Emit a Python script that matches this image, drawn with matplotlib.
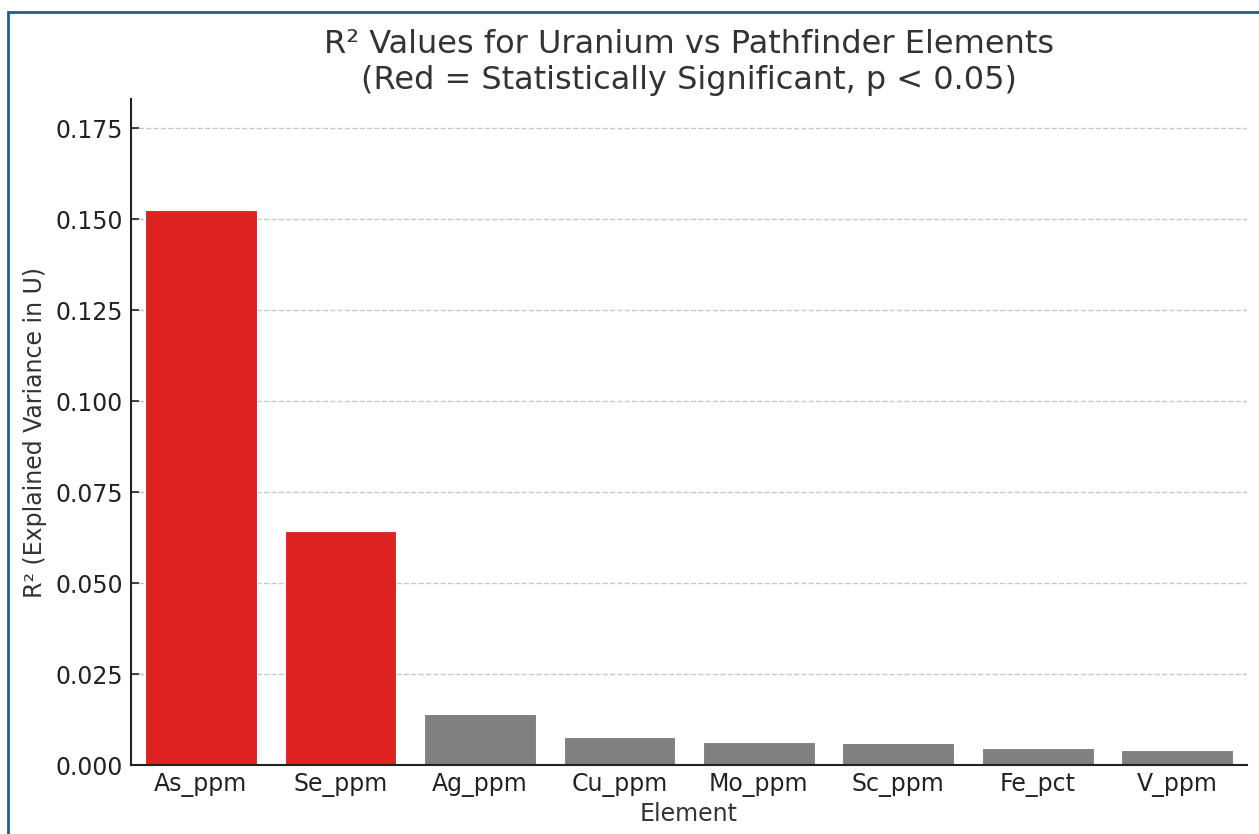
import numpy as np
import matplotlib.pyplot as plt
from matplotlib.patches import Rectangle

elements = ['As_ppm', 'Se_ppm', 'Ag_ppm', 'Cu_ppm', 'Mo_ppm', 'Sc_ppm', 'Fe_pct', 'V_ppm']
r2_values = [0.1525, 0.0643, 0.0140, 0.0077, 0.0063, 0.0061, 0.0047, 0.0042]
significant = [True, True, False, False, False, False, False, False]
y_ticks = [0.000, 0.025, 0.050, 0.075, 0.100, 0.125, 0.150, 0.175]

RED = '#de2121'
GREY = '#808080'
TEXT = '#333333'


def main():
    fig = plt.figure(figsize=(12.59, 8.34), dpi=100)
    ax = fig.add_axes([0.1041, 0.0827, 0.8864, 0.7986])

    x = np.arange(len(elements))
    colors = [RED if s else GREY for s in significant]
    ax.bar(x, r2_values, width=0.8, color=colors, edgecolor='white', linewidth=0.8, zorder=2)

    ax.set_xlim(-0.5, len(elements) - 0.5)
    ax.set_ylim(0, max(r2_values) * 1.2)
    ax.set_xticks(x)
    ax.set_xticklabels(elements)
    ax.set_yticks(y_ticks)
    ax.set_yticklabels([f'{v:.3f}' for v in y_ticks])

    ax.tick_params(direction='in', length=6, width=1.2, colors='#222222', labelsize=17, pad=6)
    for side in ['top', 'right']:
        ax.spines[side].set_visible(False)
    for side in ['left', 'bottom']:
        ax.spines[side].set_linewidth(1.5)
        ax.spines[side].set_color('#222222')

    ax.yaxis.grid(True, linestyle='--', color='#c8c8c8', linewidth=1.0, zorder=0)
    ax.set_axisbelow(True)

    ax.set_xlabel('Element', fontsize=17, color=TEXT, labelpad=3)
    ax.set_ylabel('R² (Explained Variance in U)', fontsize=17, color=TEXT, labelpad=6)
    ax.set_title('R² Values for Uranium vs Pathfinder Elements\n(Red = Statistically Significant, p < 0.05)',
                 fontsize=23, color=TEXT, pad=7, linespacing=1.22)

    # screenshot frame visible on the left and top
    fig.patches.append(Rectangle((8 / 1259, -0.1), 1.2, 1 - 12 / 834 + 0.1,
                                 transform=fig.transFigure, fill=False,
                                 edgecolor='#1f5f8b', linewidth=2, zorder=10))

    fig.savefig('out.png', dpi=100)


if __name__ == '__main__':
    main()
